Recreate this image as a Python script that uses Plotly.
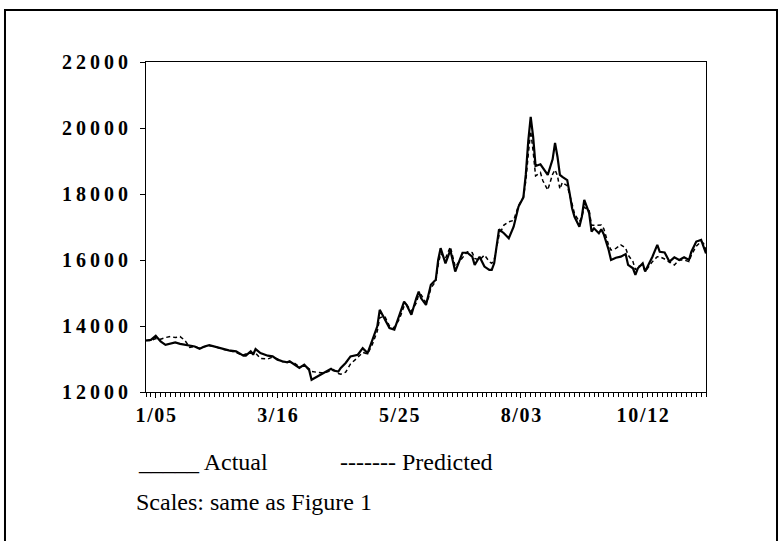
import plotly.graph_objects as go

# observation index (trading days from 1/05)
obs = [0, 2, 4, 6, 8, 10, 12, 14, 16, 18, 20, 22, 24, 26, 28, 30, 32, 34, 37, 39,
       40, 41, 43, 44, 45, 47, 50, 52, 54, 56, 58, 59, 61, 63, 65, 67, 68, 70, 72, 74,
       76, 77, 79, 80, 82, 84, 87, 89, 91, 93, 95, 96, 98, 100, 102, 104, 106, 107, 109, 111,
       112, 113, 115, 116, 117, 119, 120, 121, 123, 125, 127, 130, 132, 134, 135, 137, 139, 141, 142, 143,
       145, 147, 149, 151, 153, 155, 156, 157, 158, 159, 160, 162, 163, 165, 167, 168, 169, 170, 171, 173,
       174, 175, 176, 178, 179, 180, 182, 183, 184, 186, 187, 188, 190, 191, 193, 195, 197, 198, 200, 201,
       202, 204, 205, 206, 208, 210, 211, 213, 215, 217, 219, 221, 223, 224, 226, 228, 229, 230]

actual = [13560, 13580, 13700, 13530, 13430, 13460, 13500, 13460, 13430, 13400, 13380, 13310, 13380, 13420, 13380, 13340, 13300, 13260, 13230, 13150,
          13100, 13100, 13230, 13130, 13300, 13180, 13100, 13080, 12980, 12930, 12900, 12930, 12830, 12730, 12830, 12670, 12370, 12450, 12520, 12620,
          12700, 12650, 12620, 12730, 12880, 13080, 13130, 13330, 13180, 13580, 13990, 14490, 14190, 13940, 13890, 14290, 14740, 14640, 14340, 14840,
          15040, 14840, 14640, 14940, 15250, 15400, 16000, 16360, 15900, 16300, 15650, 16220, 16220, 16100, 15850, 16100, 15800, 15700, 15700, 15900,
          16930, 16810, 16660, 17010, 17620, 17900, 18600, 19600, 20340, 19740, 18850, 18900, 18780, 18580, 19050, 19550, 19130, 18580, 18520, 18420,
          18020, 17570, 17310, 17010, 17310, 17820, 17420, 16860, 16960, 16810, 16930, 16780, 16310, 16000, 16070, 16100, 16180, 15850, 15750, 15550,
          15750, 15900, 15650, 15800, 16100, 16460, 16250, 16230, 15950, 16080, 16000, 16080, 16000, 16250, 16560, 16610, 16380, 16200]

predicted = [13560, 13560, 13620, 13600, 13650, 13680, 13650, 13680, 13560, 13350, 13380, 13330, 13370, 13400, 13380, 13330, 13290, 13260, 13200, 13130,
             13120, 13150, 13180, 13200, 13180, 13020, 13000, 13060, 13000, 12920, 12920, 12900, 12870, 12760, 12800, 12700, 12620, 12600, 12580, 12600,
             12670, 12680, 12560, 12540, 12600, 12850, 13050, 13200, 13150, 13450, 13850, 14250, 14300, 14000, 13950, 14200, 14600, 14650, 14450, 14700,
             14950, 14950, 14700, 14850, 15150, 15350, 15850, 16200, 16050, 16400, 15800, 16050, 16250, 16220, 16050, 16000, 16150, 15950, 15900, 16000,
             16750, 17060, 17160, 17200, 17650, 17900, 18400, 19200, 19900, 19300, 18550, 18650, 18400, 18120, 18600, 18730, 18550, 18150, 18350, 18250,
             18000, 17700, 17400, 17160, 17300, 17600, 17500, 17050, 17050, 17060, 17060, 16950, 16450, 16300, 16350, 16460, 16360, 16150, 15950, 15700,
             15800, 15850, 15650, 15750, 15950, 16100, 16100, 16030, 15950, 15850, 16000, 16000, 15950, 16150, 16420, 16560, 16500, 16300]

tick_obs = [4, 54, 104, 154, 204]
tick_labels = ["1/05", "3/16", "5/25", "8/03", "10/12"]
y_ticks = [12000, 14000, 16000, 18000, 20000, 22000]

serif = "Liberation Serif, Times New Roman, serif"

def spaced(s, sep):
    return sep.join(list(s))

fig = go.Figure()
fig.add_trace(go.Scatter(x=obs, y=predicted, mode="lines", name="Predicted",
                         line=dict(color="black", width=1.5, dash="4px,3px")))
fig.add_trace(go.Scatter(x=obs, y=actual, mode="lines", name="Actual",
                         line=dict(color="black", width=2.2)))

fig.update_layout(
    width=780, height=541,
    margin=dict(l=146, r=74, t=62, b=149),
    paper_bgcolor="white", plot_bgcolor="white",
    showlegend=False,
    font=dict(family=serif, color="black"),
)

fig.update_xaxes(
    range=[0, 230], tickmode="array", tickvals=tick_obs,
    ticktext=[spaced(t, "\u200a") for t in tick_labels],
    ticks="outside", ticklen=5, tickcolor="black", tickwidth=1,
    showline=True, mirror=True, linecolor="black", linewidth=1,
    showgrid=False, zeroline=False,
    minor=dict(tickmode="linear", tick0=0, dtick=2, ticks="outside", ticklen=4, tickcolor="black", showgrid=False),
    tickfont=dict(family=serif, size=20, color="black", weight="bold"),
    ticklabelstandoff=0,
)
fig.update_yaxes(
    range=[12000, 22000], tickmode="array", tickvals=y_ticks,
    ticktext=[spaced(str(v), "\u2009") for v in y_ticks],
    ticks="outside", ticklen=5, tickcolor="black", tickwidth=1,
    showline=True, mirror=True, linecolor="black", linewidth=1,
    showgrid=False, zeroline=False,
    tickfont=dict(family=serif, size=20, color="black", weight="bold"),
    ticklabelstandoff=8,
)

# outer frame of the figure
fig.add_shape(type="rect", xref="paper", yref="paper",
              x0=-0.2518, x1=1.1268, y0=-0.4636, y1=1.1576,
              line=dict(color="black", width=2))

fig.add_annotation(xref="paper", yref="paper", x=-0.0179, y=-0.2121,
                   xanchor="left", yanchor="middle", showarrow=False,
                   text="_____ Actual", font=dict(family=serif, size=24, color="black"))
fig.add_annotation(xref="paper", yref="paper", x=0.3429, y=-0.2121,
                   xanchor="left", yanchor="middle", showarrow=False,
                   text="------- Predicted", font=dict(family=serif, size=24, color="black"))
fig.add_annotation(xref="paper", yref="paper", x=-0.0214, y=-0.3333,
                   xanchor="left", yanchor="middle", showarrow=False,
                   text="Scales: same as Figure 1", font=dict(family=serif, size=24, color="black"))

fig.write_html("out.html", config={"displayModeBar": False},
               post_script="document.body.style.margin='0px';")
